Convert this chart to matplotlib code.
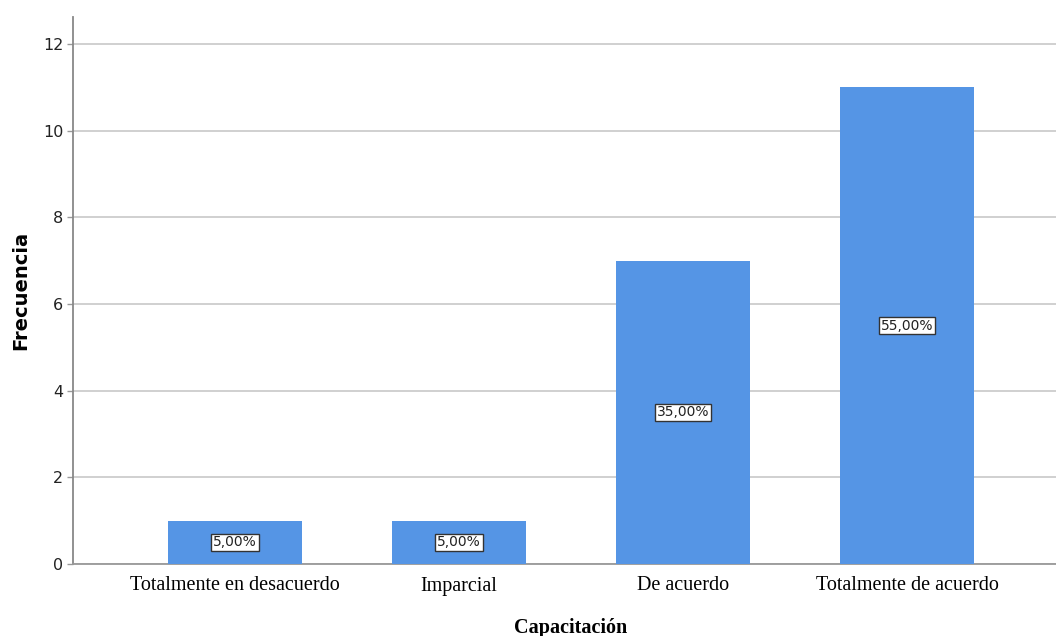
import numpy as np
import matplotlib.pyplot as plt

categorias = ['Totalmente en desacuerdo', 'Imparcial', 'De acuerdo', 'Totalmente de acuerdo']
frecuencias = [1, 1, 7, 11]
porcentajes = ['5,00%', '5,00%', '35,00%', '55,00%']
y_ticks = [0, 2, 4, 6, 8, 10, 12]

fig = plt.figure(figsize=(10.56, 6.36), dpi=100)
# el grafico original esta recortado a la derecha
ax = fig.add_axes([73 / 1056, 72 / 636, 996 / 1056, 547 / 636])

x = np.arange(len(categorias))
ax.bar(x, frecuencias, width=0.6, color='#5595E5', zorder=3)

for xi, f, p in zip(x, frecuencias, porcentajes):
    ax.text(xi, f / 2, p, ha='center', va='center', fontsize=10,
            family='DejaVu Sans', color='#222222', zorder=4,
            bbox=dict(boxstyle='square,pad=0.12', fc='white', ec='#333333', lw=1))

ax.set_xlim(-0.723, 3.723)
ax.set_ylim(0, 12.62)
ax.set_yticks(y_ticks)
ax.yaxis.grid(True, color='#c8c8c8', lw=1.2, zorder=0)
ax.set_xticks(x)
ax.set_xticklabels(categorias, family='Liberation Serif', fontsize=14.5)
for lbl in ax.get_yticklabels():
    lbl.set_fontsize(11.5)
    lbl.set_color('#222222')

ax.tick_params(axis='x', length=0, pad=9)
ax.tick_params(axis='y', length=4, width=1, color='#999999', pad=3)
for s in ['top', 'right']:
    ax.spines[s].set_visible(False)
ax.spines['left'].set_color('#888888')
ax.spines['left'].set_linewidth(1.3)
ax.spines['bottom'].set_color('#999999')
ax.spines['bottom'].set_linewidth(1.3)

ax.set_ylabel('Frecuencia', fontsize=14, fontweight='bold', family='DejaVu Sans', labelpad=9)
ax.set_xlabel('Capacitación', fontsize=14.5, fontweight='bold', family='Liberation Serif', labelpad=16)

fig.savefig('out.png', dpi=100)
